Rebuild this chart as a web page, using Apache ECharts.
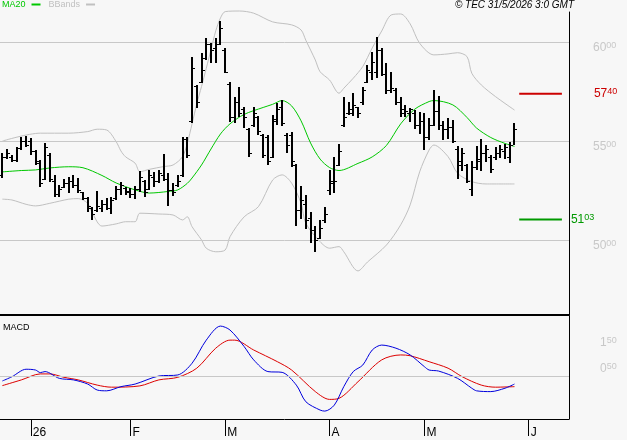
<!DOCTYPE html>
<html>
<head>
<meta charset="utf-8">
<script src="https://cdn.jsdelivr.net/npm/echarts@6/dist/echarts.min.js"></script>
<style>
  html, body { margin: 0; padding: 0; background: #f7f7f7; }
  #chart { width: 627px; height: 440px; }
</style>
</head>
<body>
<div id="chart"></div>
<script>
// sessions: Euronext days from 22/12/2025 to 29/05/2026, then calendar days ahead
const holidays = ['2025-12-25', '2025-12-26', '2026-01-01', '2026-04-03', '2026-04-06', '2026-05-01'];
const lastSession = '2026-05-29';
const futureDays = 11;
const monthLetters = ['J', 'F', 'M', 'A', 'M', 'J', 'J', 'A', 'S', 'O', 'N', 'D'];

function fmt(d) {
  return d.toISOString().slice(0, 10);
}
function buildDates() {
  const out = [];
  const d = new Date(Date.UTC(2025, 11, 22));
  while (fmt(d) <= lastSession) {
    const wd = d.getUTCDay();
    if (wd !== 0 && wd !== 6 && holidays.indexOf(fmt(d)) < 0) out.push(fmt(d));
    d.setUTCDate(d.getUTCDate() + 1);
  }
  for (let k = 0; k < futureDays; k++) {
    out.push(fmt(d));
    d.setUTCDate(d.getUTCDate() + 1);
  }
  return out;
}
const dates = buildDates();

// daily bars
const opens = [5330, 5420, 5420, 5405, 5465, 5500, 5500, 5450, 5390, 5310,
  5430, 5300, 5230, 5270, 5290, 5300, 5280, 5240, 5210, 5160,
  5150, 5160, 5180, 5160, 5210, 5260, 5265, 5245, 5230, 5260,
  5300, 5260, 5320, 5300, 5330, 5310, 5250, 5280, 5330, 5510,
  5600, 5780, 5800, 5920, 5990, 5970, 5990, 5960, 5790, 5620,
  5700, 5660, 5560, 5580, 5620, 5530, 5520, 5420, 5600, 5670,
  5530, 5530, 5380, 5150, 5180, 5110, 5050, 5010, 5100, 5250,
  5290, 5380, 5580, 5640, 5640, 5670, 5700, 5800, 5850, 5850,
  5960, 5840, 5760, 5760, 5700, 5660, 5640, 5640, 5580, 5600,
  5520, 5580, 5650, 5580, 5560, 5570, 5460, 5400, 5380, 5260,
  5370, 5400, 5440, 5420, 5420, 5440, 5450, 5420, 5480];
const highs = [5441, 5460, 5430, 5472, 5521, 5526, 5516, 5455, 5404, 5490,
  5440, 5328, 5278, 5308, 5318, 5328, 5313, 5244, 5219, 5168,
  5249, 5202, 5212, 5217, 5273, 5295, 5269, 5263, 5273, 5350,
  5303, 5354, 5345, 5354, 5435, 5339, 5288, 5328, 5522, 5522,
  5927, 5784, 5946, 6022, 5996, 6022, 6109, 5971, 5801, 5725,
  5775, 5674, 5566, 5674, 5627, 5536, 5531, 5632, 5693, 5708,
  5541, 5548, 5384, 5273, 5227, 5143, 5070, 5103, 5168, 5354,
  5421, 5485, 5725, 5699, 5743, 5674, 5775, 5885, 5952, 6027,
  5971, 5895, 5851, 5769, 5725, 5680, 5667, 5657, 5649, 5642,
  5617, 5759, 5728, 5604, 5617, 5607, 5475, 5465, 5384, 5399,
  5475, 5511, 5480, 5430, 5472, 5480, 5485, 5497, 5592];
const lows = [5317, 5410, 5396, 5396, 5455, 5472, 5430, 5379, 5269, 5303,
  5295, 5219, 5219, 5263, 5237, 5263, 5237, 5202, 5143, 5104,
  5143, 5143, 5151, 5131, 5202, 5227, 5227, 5212, 5207, 5244,
  5219, 5253, 5269, 5288, 5300, 5172, 5222, 5269, 5320, 5414,
  5592, 5667, 5794, 5910, 5895, 5895, 5986, 5846, 5598, 5592,
  5624, 5566, 5421, 5573, 5531, 5415, 5379, 5415, 5581, 5576,
  5440, 5372, 5070, 5106, 5053, 4986, 4940, 5007, 5088, 5230,
  5237, 5374, 5571, 5632, 5627, 5620, 5683, 5795, 5809, 5819,
  5829, 5738, 5746, 5683, 5624, 5620, 5598, 5561, 5536, 5455,
  5506, 5576, 5556, 5506, 5511, 5490, 5307, 5349, 5288, 5222,
  5354, 5349, 5394, 5337, 5404, 5412, 5407, 5389, 5480];
const closes = [5420, 5440, 5405, 5465, 5500, 5480, 5450, 5400, 5290, 5470,
  5310, 5230, 5260, 5290, 5300, 5280, 5250, 5210, 5170, 5130,
  5170, 5180, 5160, 5200, 5260, 5280, 5240, 5230, 5260, 5320,
  5240, 5330, 5300, 5340, 5310, 5250, 5240, 5300, 5510, 5430,
  5870, 5700, 5860, 5990, 5960, 5990, 6070, 5850, 5620, 5700,
  5640, 5620, 5440, 5640, 5550, 5430, 5400, 5610, 5660, 5590,
  5480, 5400, 5150, 5200, 5100, 5050, 5000, 5060, 5130, 5300,
  5300, 5450, 5620, 5660, 5680, 5640, 5760, 5860, 5900, 5960,
  5840, 5760, 5770, 5700, 5640, 5650, 5660, 5580, 5600, 5520,
  5580, 5650, 5580, 5560, 5570, 5500, 5380, 5440, 5300, 5370,
  5410, 5440, 5460, 5360, 5440, 5460, 5470, 5480, 5560];

// indicators as [session index, value]
const ma20 = [[0, 5344], [4, 5351], [7, 5354], [10, 5364], [14, 5370], [17, 5365], [21, 5326],
  [24, 5288], [28, 5253], [31, 5237], [35, 5245], [37, 5253], [39, 5286], [40, 5313],
  [42, 5379], [44, 5460], [46, 5536], [48, 5587], [51, 5635], [55, 5670], [57, 5686],
  [59, 5705], [61, 5678], [63, 5602], [65, 5490], [67, 5409], [69, 5366], [71, 5351],
  [75, 5387], [78, 5420], [81, 5478], [84, 5587], [87, 5662], [90, 5700], [91, 5705],
  [95, 5683], [98, 5619], [100, 5566], [103, 5518], [106, 5488], [108, 5473]];
const bbUpper = [[0, 5500], [8, 5540], [14, 5540], [18, 5548], [20, 5560], [22, 5556],
  [24, 5497], [25, 5450], [26, 5420], [28, 5388], [29, 5345], [31, 5357], [34, 5371],
  [36, 5379], [38, 5421], [39, 5489], [40, 5587], [41, 5688], [42, 5776], [43, 5868],
  [44, 5963], [45, 6057], [46, 6123], [47, 6155], [50, 6158], [53, 6147], [57, 6103],
  [61, 6088], [63, 6062], [64, 6010], [66, 5910], [67, 5851], [69, 5809], [71, 5742],
  [72, 5767], [74, 5818], [76, 5877], [78, 5971], [80, 6057], [82, 6138], [84, 6143],
  [86, 6093], [88, 5995], [91, 5936], [94, 5941], [96, 5947], [98, 5927], [99, 5843],
  [101, 5784], [104, 5725], [108, 5657]];
const bbLower = [[0, 5206], [2, 5202], [5, 5180], [7, 5172], [10, 5185], [14, 5206],
  [16, 5209], [18, 5185], [19, 5135], [21, 5070], [24, 5081], [26, 5092], [28, 5092],
  [29, 5135], [33, 5131], [36, 5126], [38, 5101], [39, 5117], [40, 5067], [42, 5000],
  [43, 4958], [45, 4940], [47, 4949], [48, 5016], [51, 5117], [54, 5168], [57, 5303],
  [59, 5329], [61, 5287], [63, 5185], [64, 5084], [67, 4991], [69, 4958], [71, 4966],
  [72, 4940], [75, 4843], [77, 4888], [81, 4974], [84, 5076], [86, 5177], [88, 5344],
  [90, 5455], [91, 5480], [94, 5421], [96, 5337], [99, 5295], [102, 5283], [108, 5283]];
const macdLine = [[0, -0.19], [2, -0.03], [5, 0.26], [7, 0.23], [8, 0.13], [9, 0.17],
  [12, -0.09], [15, -0.15], [18, -0.31], [20, -0.54], [22, -0.57], [25, -0.41], [28, -0.31],
  [33, 0], [37, 0.04], [40, 0.49], [43, 1.38], [46, 1.92], [48, 1.77], [51, 1.13], [53, 0.62],
  [56, 0.17], [59, 0.14], [62, -0.35], [64, -0.99], [67, -1.31], [68, -1.35], [70, -1.12],
  [72, -0.41], [74, 0.17], [76, 0.42], [78, 1.0], [80, 1.19], [83, 1.07], [86, 0.81],
  [89, 0.36], [90, 0.23], [92, 0.19], [96, -0.09], [99, -0.47], [100, -0.57], [103, -0.6],
  [106, -0.47], [108, -0.31]];
const macdSignal = [[0, -0.37], [4, -0.15], [8, 0.08], [10, 0.08], [13, -0.05], [16, -0.15],
  [20, -0.35], [23, -0.43], [29, -0.38], [33, -0.15], [37, -0.05], [41, 0.3], [45, 1.07],
  [48, 1.38], [49, 1.38], [53, 1.0], [58, 0.55], [61, 0.23], [66, -0.6], [69, -0.9],
  [71, -0.86], [75, -0.22], [80, 0.62], [84, 0.81], [86, 0.78], [90, 0.55], [94, 0.3],
  [97, -0.03], [101, -0.35], [104, -0.43], [108, -0.41]];

const priceTicks = [5000, 5500, 6000];
const macdTicks = [0.5, 1.5];
const resistance = 5740;
const support = 5103;

const levelStart = closes.length;
const levelEnd = closes.length + 9;

function isMonthStart(index) {
  if (index === 0) return false;
  return dates[index].slice(5, 7) !== dates[index - 1].slice(5, 7);
}
function monthLabel(value) {
  const m = +value.slice(5, 7);
  return m === 1 ? value.slice(2, 4) : monthLetters[m - 1];
}
function priceLabel(v) {
  const s = String(Math.round(v));
  return '{a|' + s.slice(0, 2) + '}{b|' + s.slice(2) + '}';
}
function macdLabel(v) {
  const s = Number(v).toFixed(2).split('.');
  return '{a|' + s[0] + '}{b|' + s[1] + '}';
}
function splitRich(color) {
  return {
    a: { fontSize: 12, color: color, fontFamily: 'Liberation Sans', lineHeight: 13 },
    b: { fontSize: 9, color: color, fontFamily: 'Liberation Sans', verticalAlign: 'top', lineHeight: 9 }
  };
}

function renderBar(params, api) {
  const i = api.value(0);
  const hi = api.coord([i, api.value(2)]);
  const lo = api.coord([i, api.value(3)]);
  const op = api.coord([i, api.value(1)]);
  const cl = api.coord([i, api.value(4)]);
  const x = Math.round(hi[0]);
  const black = { fill: '#000' };
  return {
    type: 'group',
    children: [
      { type: 'rect', shape: { x: x - 1, y: Math.round(hi[1]), width: 2, height: Math.max(1, Math.round(lo[1] - hi[1])) }, style: black },
      { type: 'rect', shape: { x: x - 3, y: Math.round(op[1]), width: 2, height: 1 }, style: black },
      { type: 'rect', shape: { x: x + 1, y: Math.round(cl[1]), width: 2, height: 1 }, style: black }
    ]
  };
}

const chart = echarts.init(document.getElementById('chart'));
chart.setOption({
  animation: false,
  backgroundColor: '#f7f7f7',
  textStyle: { fontFamily: 'Liberation Sans' },
  title: [
    {
      text: '© TEC 31/5/2026 3:0 GMT',
      right: 53,
      top: 0,
      padding: 0,
      textStyle: { fontSize: 10, fontStyle: 'italic', fontWeight: 'normal', color: '#000' }
    },
    {
      text: 'MACD',
      left: 3,
      top: 323,
      padding: 0,
      textStyle: { fontSize: 9, fontWeight: 'normal', color: '#000' }
    }
  ],
  legend: {
    left: 2,
    top: 0,
    padding: 0,
    align: 'right',
    icon: 'rect',
    itemWidth: 9,
    itemHeight: 2,
    itemGap: 8,
    selectedMode: false,
    textStyle: { fontSize: 9, padding: [0, 1, 0, 0] },
    data: [
      { name: 'MA20', textStyle: { color: '#00c800' } },
      { name: 'BBands', textStyle: { color: '#c0c0c0' } }
    ]
  },
  grid: [
    { left: 0, right: 58, top: 12, height: 303 },
    { left: 0, right: 58, top: 316, height: 103 }
  ],
  xAxis: [
    {
      type: 'category',
      gridIndex: 0,
      data: dates,
      axisLine: { onZero: false, lineStyle: { color: '#000', width: 2 } },
      axisTick: { show: false },
      axisLabel: { show: false },
      splitLine: { show: false }
    },
    {
      type: 'category',
      gridIndex: 1,
      data: dates,
      axisLine: { onZero: false, lineStyle: { color: '#000', width: 1 } },
      axisTick: {
        show: true,
        alignWithLabel: true,
        interval: isMonthStart,
        length: 17,
        lineStyle: { color: '#000', width: 1 }
      },
      axisLabel: {
        show: true,
        interval: isMonthStart,
        formatter: monthLabel,
        align: 'left',
        padding: [0, 0, 0, 2],
        margin: 8,
        fontSize: 12,
        color: '#000'
      },
      splitLine: { show: false }
    }
  ],
  yAxis: [
    {
      type: 'value',
      gridIndex: 0,
      position: 'right',
      min: 4620,
      max: 6153,
      axisLine: { show: true, lineStyle: { color: '#000' } },
      axisTick: { show: false },
      axisLabel: { show: false },
      splitLine: { show: false }
    },
    {
      type: 'value',
      gridIndex: 1,
      position: 'right',
      min: -1.654,
      max: 2.308,
      axisLine: { show: true, lineStyle: { color: '#000' } },
      axisTick: { show: false },
      axisLabel: { show: false },
      splitLine: { show: false }
    }
  ],
  series: [
    {
      name: 'BBands',
      type: 'line',
      xAxisIndex: 0,
      yAxisIndex: 0,
      data: bbUpper,
      smooth: 0.3,
      clip: false,
      symbol: 'none',
      z: 2,
      lineStyle: { color: '#c0c0c0', width: 1 },
      itemStyle: { color: '#c0c0c0' },
      markLine: {
        silent: true,
        symbol: 'none',
        lineStyle: { color: '#c8c8c8', width: 1, type: 'solid' },
        label: {
          show: true,
          position: 'end',
          distance: 24,
          padding: [11, 0, 0, 0],
          formatter: p => priceLabel(p.value),
          rich: splitRich('#c8c8c8')
        },
        data: priceTicks.map(v => ({ yAxis: v }))
      }
    },
    {
      name: 'BBands',
      type: 'line',
      xAxisIndex: 0,
      yAxisIndex: 0,
      data: bbLower,
      smooth: 0.3,
      clip: false,
      symbol: 'none',
      z: 2,
      lineStyle: { color: '#c0c0c0', width: 1 },
      itemStyle: { color: '#c0c0c0' }
    },
    {
      name: 'MA20',
      type: 'line',
      xAxisIndex: 0,
      yAxisIndex: 0,
      data: ma20,
      smooth: 0.3,
      symbol: 'none',
      z: 8,
      lineStyle: { color: '#00c800', width: 1 },
      itemStyle: { color: '#00c800' }
    },
    {
      name: 'price',
      type: 'custom',
      xAxisIndex: 0,
      yAxisIndex: 0,
      renderItem: renderBar,
      encode: { x: 0, y: [1, 2, 3, 4] },
      z: 10,
      data: opens.map((o, i) => [i, o, highs[i], lows[i], closes[i]])
    },
    {
      name: 'resistance',
      type: 'line',
      xAxisIndex: 0,
      yAxisIndex: 0,
      data: [[levelStart, resistance], [levelEnd, resistance]],
      symbol: 'none',
      lineStyle: { color: '#cc0000', width: 2 },
      endLabel: {
        show: true,
        distance: 32,
        formatter: p => priceLabel(p.value[1]),
        rich: splitRich('#cc0000')
      }
    },
    {
      name: 'support',
      type: 'line',
      xAxisIndex: 0,
      yAxisIndex: 0,
      data: [[levelStart, support], [levelEnd, support]],
      symbol: 'none',
      lineStyle: { color: '#009900', width: 2 },
      endLabel: {
        show: true,
        distance: 9,
        formatter: p => priceLabel(p.value[1]),
        rich: splitRich('#009900')
      }
    },
    {
      name: 'signal',
      type: 'line',
      xAxisIndex: 1,
      yAxisIndex: 1,
      data: macdSignal,
      smooth: 0.3,
      symbol: 'none',
      z: 3,
      lineStyle: { color: '#dd0000', width: 1 },
      markLine: {
        silent: true,
        symbol: 'none',
        lineStyle: { color: '#c8c8c8', width: 1, type: 'solid' },
        label: { show: false },
        data: [{ yAxis: 0 }]
      }
    },
    {
      name: 'MACD',
      type: 'line',
      xAxisIndex: 1,
      yAxisIndex: 1,
      data: macdLine,
      smooth: 0.3,
      symbol: 'none',
      z: 4,
      lineStyle: { color: '#0000dd', width: 1 },
      markLine: {
        silent: true,
        symbol: 'none',
        lineStyle: { color: 'rgba(0,0,0,0)', width: 1, type: 'solid' },
        label: {
          show: true,
          position: 'end',
          distance: 31,
          padding: [12, 0, 0, 0],
          formatter: p => macdLabel(p.value),
          rich: splitRich('#c8c8c8')
        },
        data: macdTicks.map(v => ({ yAxis: v }))
      }
    }
  ]
});
</script>
</body>
</html>
